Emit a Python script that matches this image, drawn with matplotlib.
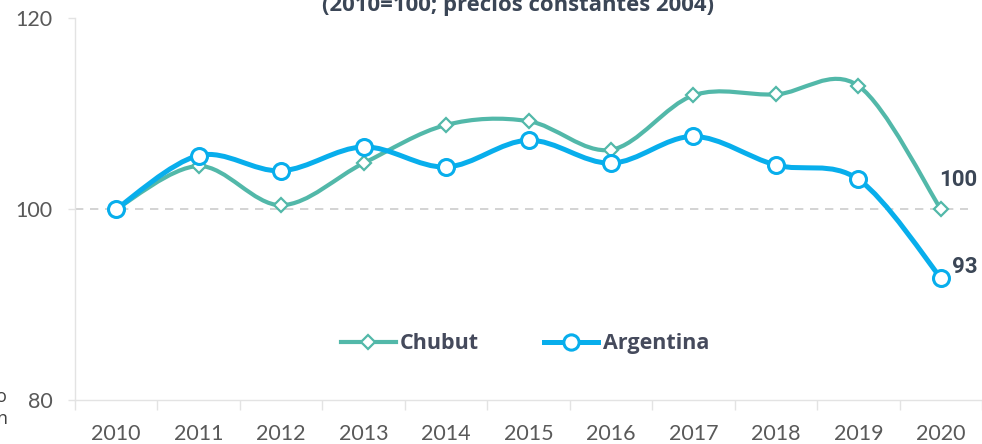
import matplotlib
matplotlib.use('Agg')
import matplotlib.pyplot as plt
import numpy as np
from matplotlib.path import Path
from matplotlib.patches import PathPatch
from matplotlib.lines import Line2D

years = ['2010', '2011', '2012', '2013', '2014', '2015', '2016', '2017', '2018', '2019', '2020']
chubut = [100, 104.5, 100.4, 104.8, 108.8, 109.2, 106.2, 111.9, 112.0, 112.9, 100]
argentina = [100, 105.6, 104.0, 106.5, 104.4, 107.2, 104.8, 107.6, 104.6, 103.1, 92.8]
yticks = [80, 100, 120]

teal = '#52b8a9'
blue = '#08aeec'
dark = '#3b4656'
grey = '#595959'


def smooth_path(x, y):
    # excel style smoothed line, bezier through the points
    pts = np.column_stack([x, y])
    ext = np.vstack([pts[0], pts, pts[-1]])
    verts = [pts[0]]
    codes = [Path.MOVETO]
    for i in range(len(pts) - 1):
        c1 = ext[i + 1] + (ext[i + 2] - ext[i]) / 6
        c2 = ext[i + 2] - (ext[i + 3] - ext[i + 1]) / 6
        verts += [c1, c2, ext[i + 2]]
        codes += [Path.CURVE4] * 3
    return Path(verts, codes)


fig = plt.figure(figsize=(9.82, 4.44), dpi=100)
ax = fig.add_axes([75 / 982, 1 - 400 / 444, 907 / 982, 382 / 444])

x = np.arange(len(years))

ax.axhline(100, xmax=0.985, color='#cccccc', lw=1.2, dashes=(5, 4), zorder=1)

ax.add_patch(PathPatch(smooth_path(x, chubut), fill=False, edgecolor=teal, lw=3.0, zorder=3,
                       capstyle='round', joinstyle='round'))
ax.plot(x, chubut, linestyle='none', marker='D', ms=7.5, mfc='white', mec=teal, mew=1.6, zorder=4)

ax.add_patch(PathPatch(smooth_path(x, argentina), fill=False, edgecolor=blue, lw=3.6, zorder=5,
                       capstyle='round', joinstyle='round'))
ax.plot(x, argentina, linestyle='none', marker='o', ms=11.5, mfc='white', mec=blue, mew=2.2, zorder=6)

ax.annotate('100', (x[-1], chubut[-1]), xytext=(-1, 21), textcoords='offset points',
            ha='left', va='center', fontsize=16, fontweight='bold', color=dark, family='Roboto')
ax.annotate('93', (x[-1], argentina[-1]), xytext=(8, 8), textcoords='offset points',
            ha='left', va='center', fontsize=16, fontweight='bold', color=dark, family='Roboto')

ax.set_xlim(-0.5, len(years) - 0.5)
ax.set_ylim(80, 120)
ax.set_xticks(x)
ax.set_xticklabels(years, family='Lato', fontsize=15.5, color=grey)
ax.set_xticks(np.arange(len(years) + 1) - 0.5, minor=True)
ax.tick_params(axis='x', which='major', length=0, pad=17)
ax.tick_params(axis='x', which='minor', length=7.5, color='#e3e3e3', width=1)
ax.set_yticks(yticks)
ax.set_yticklabels([str(v) for v in yticks], family='Lato', fontsize=15.5, color=grey)
ax.tick_params(axis='y', length=5, color='#e3e3e3', width=1, pad=11)

for s in ['top', 'right']:
    ax.spines[s].set_visible(False)
for s in ['left', 'bottom']:
    ax.spines[s].set_color('#e3e3e3')
    ax.spines[s].set_linewidth(1)

handles = [
    Line2D([], [], color=teal, lw=3.0, marker='D', ms=7.5, mfc='white', mec=teal, mew=1.6),
    Line2D([], [], color=blue, lw=3.6, marker='o', ms=11, mfc='white', mec=blue, mew=2.2),
]
leg = ax.legend(handles, ['Chubut', 'Argentina'], loc='center', bbox_to_anchor=(0.496, 0.147),
                ncol=2, frameon=False, handlelength=2.55, handletextpad=0.2, columnspacing=3.0,
                prop={'family': 'Open Sans', 'weight': 'bold', 'size': 15.5})
for t in leg.get_texts():
    t.set_color('#454a5c')

fig.text(0.527, 1 - 11 / 444, '(2010=100; precios constantes 2004)', ha='center', va='baseline',
         fontsize=15.9, fontweight='bold', color=dark, family='Open Sans')

# text fragments cut at the left border
fig.text(7 / 982, 1 - 397 / 444, 'o', ha='right', va='center', fontsize=13, color='#404040', family='Open Sans')
fig.text(7 / 982, 1 - 419 / 444, 'n', ha='right', va='center', fontsize=13, color='#404040', family='Open Sans')

fig.savefig('out.png', dpi=100)
